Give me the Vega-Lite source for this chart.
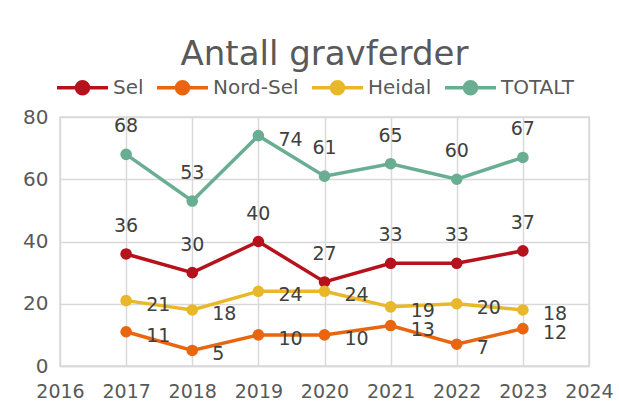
{
  "$schema": "https://vega.github.io/schema/vega-lite/v6.json",
  "autosize": {"type": "none"},
  "width": 529,
  "height": 249,
  "padding": {"left": 60, "top": 117, "right": 30, "bottom": 43},
  "background": "white",
  "config": {
    "font": "DejaVu Sans",
    "view": {"stroke": "#D9D9D9", "strokeWidth": 1.5}
  },
  "title": {
    "text": "Antall gravferder",
    "fontSize": 34,
    "fontWeight": "normal",
    "color": "#595959",
    "anchor": "middle",
    "offset": -12
  },
  "data": {
    "values": [
      {"year": 2017, "series": "Sel", "value": 36},
      {"year": 2018, "series": "Sel", "value": 30},
      {"year": 2019, "series": "Sel", "value": 40},
      {"year": 2020, "series": "Sel", "value": 27},
      {"year": 2021, "series": "Sel", "value": 33},
      {"year": 2022, "series": "Sel", "value": 33},
      {"year": 2023, "series": "Sel", "value": 37},
      {"year": 2017, "series": "Nord-Sel", "value": 11},
      {"year": 2018, "series": "Nord-Sel", "value": 5},
      {"year": 2019, "series": "Nord-Sel", "value": 10},
      {"year": 2020, "series": "Nord-Sel", "value": 10},
      {"year": 2021, "series": "Nord-Sel", "value": 13},
      {"year": 2022, "series": "Nord-Sel", "value": 7},
      {"year": 2023, "series": "Nord-Sel", "value": 12},
      {"year": 2017, "series": "Heidal", "value": 21},
      {"year": 2018, "series": "Heidal", "value": 18},
      {"year": 2019, "series": "Heidal", "value": 24},
      {"year": 2020, "series": "Heidal", "value": 24},
      {"year": 2021, "series": "Heidal", "value": 19},
      {"year": 2022, "series": "Heidal", "value": 20},
      {"year": 2023, "series": "Heidal", "value": 18},
      {"year": 2017, "series": "TOTALT", "value": 68},
      {"year": 2018, "series": "TOTALT", "value": 53},
      {"year": 2019, "series": "TOTALT", "value": 74},
      {"year": 2020, "series": "TOTALT", "value": 61},
      {"year": 2021, "series": "TOTALT", "value": 65},
      {"year": 2022, "series": "TOTALT", "value": 60},
      {"year": 2023, "series": "TOTALT", "value": 67}
    ]
  },
  "encoding": {
    "x": {
      "field": "year",
      "type": "quantitative",
      "scale": {"domain": [2016, 2024], "nice": false, "zero": false},
      "axis": {
        "title": null,
        "values": [2016, 2017, 2018, 2019, 2020, 2021, 2022, 2023, 2024],
        "format": "d",
        "labelFontSize": 19,
        "labelColor": "#595959",
        "labelPadding": 16,
        "ticks": false,
        "domainColor": "#D9D9D9",
        "domainWidth": 1.5,
        "gridColor": "#D9D9D9",
        "gridWidth": 1.5,
        "labelFlush": false
      }
    },
    "y": {
      "field": "value",
      "type": "quantitative",
      "scale": {"domain": [0, 80], "nice": false},
      "axis": {
        "title": null,
        "values": [0, 20, 40, 60, 80],
        "labelFontSize": 20,
        "labelColor": "#595959",
        "labelPadding": 12,
        "ticks": false,
        "domain": false,
        "gridColor": "#D9D9D9",
        "gridWidth": 1.5
      }
    },
    "color": {
      "field": "series",
      "type": "nominal",
      "scale": {
        "domain": ["Sel", "Nord-Sel", "Heidal", "TOTALT"],
        "range": ["#B5121B", "#E9650F", "#E9B82A", "#69AE92"]
      },
      "legend": {
        "title": null,
        "orient": "none",
        "direction": "horizontal",
        "legendX": -5,
        "legendY": -57,
        "padding": 0,
        "symbolType": "M-1,0H1M-0.235,0A0.235,0.235,0,1,0,0.235,0A0.235,0.235,0,1,0,-0.235,0Z",
        "symbolSize": 2601,
        "symbolStrokeWidth": 3.5,
        "symbolOpacity": 1,
        "labelFontSize": 20,
        "labelColor": "#595959",
        "labelOffset": 3,
        "columnPadding": 6,
        "encode": {
          "symbols": {
            "update": {
              "stroke": {"scale": "color", "field": "value"},
              "fill": {"scale": "color", "field": "value"}
            }
          }
        }
      }
    }
  },
  "layer": [
    {"mark": {"type": "line", "strokeWidth": 3.5}},
    {"mark": {"type": "point", "filled": true, "size": 135, "opacity": 1}},
    {
      "transform": [
        {"filter": "datum.series === 'Sel' || (datum.series === 'TOTALT' && datum.year !== 2019)"}
      ],
      "mark": {"type": "text", "fontSize": 19, "color": "#404040", "align": "center", "baseline": "alphabetic", "dy": -22},
      "encoding": {"text": {"field": "value", "type": "quantitative"}, "color": {"value": "#404040"}}
    },
    {
      "transform": [
        {"filter": "datum.series === 'Nord-Sel' || datum.series === 'Heidal' || (datum.series === 'TOTALT' && datum.year === 2019)"}
      ],
      "mark": {"type": "text", "fontSize": 19, "color": "#404040", "align": "left", "baseline": "alphabetic", "dx": 20, "dy": 10},
      "encoding": {"text": {"field": "value", "type": "quantitative"}, "color": {"value": "#404040"}}
    }
  ]
}
